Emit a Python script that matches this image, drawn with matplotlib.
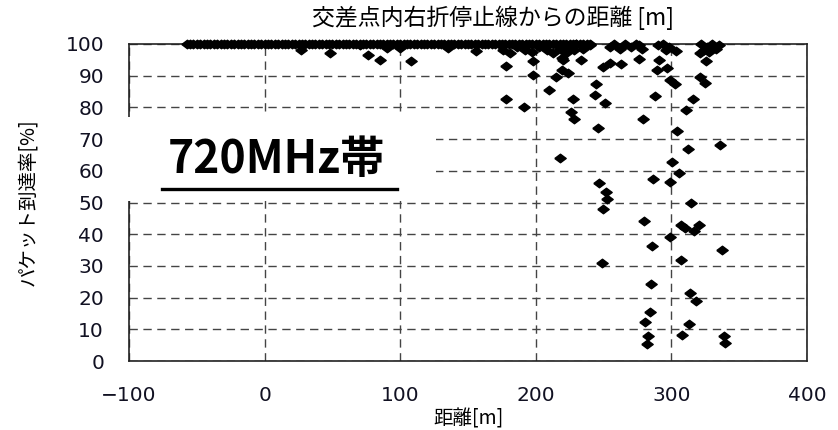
import matplotlib
matplotlib.use("Agg")
import matplotlib.pyplot as plt
from matplotlib.patches import Rectangle

plt.rcParams["font.family"] = ["Noto Sans CJK JP", "DejaVu Sans"]

# points sitting on the 100 % line (the dense band)
band_dist = [-57.5, -55, -52.5, -50, -47.5, -45, -42.5, -40, -37.5, -35, -32.5, -30,
             -27.5, -25, -22.5, -20, -17.5, -15, -12.5, -10, -7.5, -5, -2.5, 0,
             2.5, 5, 7.5, 10, 12.5, 15, 17.5, 20, 22.5, 25, 27.5, 30, 32.5, 35, 37.5, 40,
             42.5, 45, 47.5, 50, 52.5, 55, 57.5, 60, 62.5, 65, 67.5, 70, 72.5, 75, 77.5, 80,
             82.5, 85, 87.5, 90, 92.5, 95, 97.5, 100, 102.5, 105, 107.5, 110, 112.5, 115,
             117.5, 120, 122.5, 125, 127.5, 130, 132.5, 135, 137.5, 140, 142.5, 145, 147.5,
             150, 152.5, 155, 157.5, 160, 162.5, 165, 167.5, 170, 172.5, 175, 177.5, 180,
             182.5, 185, 187.5, 190, 192.5, 195, 197.5, 200, 202.5, 205, 207.5, 210, 212.5,
             215, 217.5, 220, 222.5, 225, 227.5, 230, 232.5, 235, 237.5, 240]
band_rate = [100, 100, 100, 100, 100, 100, 100, 100, 100, 100, 100, 100,
             100, 100, 100, 100, 100, 100, 100, 100, 100, 100, 100, 100,
             100, 100, 100, 100, 100, 100, 100, 100, 100, 100, 100, 100, 100, 100, 100, 100,
             100, 100, 100, 100, 100, 100, 100, 100, 100, 100, 100, 100, 100, 100, 100, 100,
             100, 100, 100, 100, 100, 100, 100, 100, 100, 100, 100, 100, 100, 100,
             100, 100, 100, 100, 100, 100, 100, 100, 100, 100, 100, 100, 100,
             100, 100, 100, 100, 100, 100, 100, 100, 100, 100, 100, 100, 100,
             100, 100, 100, 100, 100, 100, 100, 100, 100, 100, 100, 100, 100,
             100, 100, 100, 100, 100, 100, 100, 100, 100, 100, 100]

# points just below the band
near_dist = [70, 90, 100, 135, 156, 176, 181, 186, 192, 197, 202, 208, 213, 218, 222,
             225, 230, 235, 240, 228, 255, 258, 262, 266, 270, 274, 278, 276,
             290, 294, 298, 296, 303.6, 322, 326, 330, 333, 328, 335, 324]
near_rate = [99.5, 98.7, 98.7, 98.7, 97.8, 98, 97, 99, 98, 97.5, 99, 98, 97, 98.5, 97,
             99, 100, 98.5, 99.5, 98, 99, 100, 98.5, 100, 99, 100, 98.5, 99.5,
             99.5, 100, 99, 98, 97.6, 100, 99, 100, 98.5, 97.5, 99.5, 98]

# scattered points
dist = [27, 48, 76, 85, 108, 178, 178, 191, 198, 198, 210, 215, 219, 219,
        220, 233.5, 223.7, 227.4, 226, 228, 244.6, 243.4, 250.7, 245.8, 249.5, 254.4,
        263, 276, 279, 287.6, 290.8, 289.3, 296.7, 298.7, 302.4, 304, 311, 315.8,
        320.8, 324.5, 320.8, 325.7, 335.5, 312, 217.5, 300.7, 305.5, 286.4, 298.7,
        246.5, 252, 252.7, 314.7, 249.5, 279.5, 307.3, 309.7, 320.3, 317, 299.2,
        285.9, 337.5, 307.3, 248.8, 285.2, 314, 318.4, 284.4, 280.2, 313, 308,
        282.7, 338.5, 282, 339.2]
rate = [98, 97, 96.4, 94.8, 94.7, 93, 82.6, 80.2, 94.6, 90.1, 85.5, 89.4, 91.8, 95.5,
        95, 95, 90.7, 82.6, 78.6, 76.2, 87.5, 83.8, 81.5, 73.5, 92.6, 94,
        93.6, 95.3, 76.3, 83.7, 95, 91.8, 92.3, 88.6, 87.3, 72.6, 79.2, 82.6,
        89.7, 87.6, 97, 94.6, 68.1, 66.9, 64.1, 62.7, 59.4, 57.3, 56.6,
        56.2, 53.4, 51.1, 49.7, 47.9, 44.2, 42.9, 42.1, 42.9, 41.1, 39,
        36.4, 35, 31.9, 30.8, 24.3, 21.4, 18.9, 15.6, 12.4, 11.6, 8.4,
        8, 7.9, 5.3, 5.6]

x_ticks = [-100, 0, 100, 200, 300, 400]
y_ticks = [0, 10, 20, 30, 40, 50, 60, 70, 80, 90, 100]

diamond = [(-1, 0), (0, 0.75), (1, 0), (0, -0.75), (-1, 0)]

fig = plt.figure(figsize=(8.38, 4.30), dpi=100)
ax = fig.add_axes([0.154, 0.160, 0.809, 0.738])

for xs, ys in [(band_dist, band_rate), (near_dist, near_rate), (dist, rate)]:
    ax.plot(xs, ys, ls="none", marker=diamond, ms=8.2, color="black",
            clip_on=False, zorder=4)

ax.set_xlim(-100, 400)
ax.set_ylim(0, 100)
ax.set_xticks(x_ticks)
ax.set_yticks(y_ticks)
ax.set_xticklabels(["\u2212100", "0", "100", "200", "300", "400"], family="DejaVu Sans", fontsize=14.5)
ax.set_yticklabels([str(v) for v in y_ticks], family="DejaVu Sans", fontsize=14.5)
ax.tick_params(axis="x", length=0, pad=18, colors="#111122")
ax.tick_params(axis="y", length=0, pad=18, colors="#111122")
ax.grid(True, color="#444444", linestyle=(0, (6, 4)), linewidth=1)
for sp in ax.spines.values():
    sp.set_linewidth(1.2)
    sp.set_color("#222222")

ax.text(0.537, 1.082, "交差点内右折停止線からの距離 [m]", transform=ax.transAxes,
        ha="center", va="center", fontsize=16.5)
ax.set_xlabel("距離[m]", fontsize=14)
ax.xaxis.set_label_coords(0.5, -0.148)
ax.set_ylabel("パケット到達率[%]", fontsize=14)
ax.yaxis.set_label_coords(-0.134, 0.5)

# white label box covering part of the grid
ax.add_patch(Rectangle((-0.01, 0.505), 0.463, 0.265, transform=ax.transAxes,
                       facecolor="white", edgecolor="none", zorder=3, clip_on=False))
ax.text(0.218, 0.634, "720MHz帯", transform=ax.transAxes, ha="center", va="center",
        fontsize=32, fontweight="bold", zorder=5)
ax.plot([0.049, 0.395], [0.543, 0.543], transform=ax.transAxes, color="black",
        lw=2.4, clip_on=False, zorder=5)

fig.savefig("out.png", dpi=100)
